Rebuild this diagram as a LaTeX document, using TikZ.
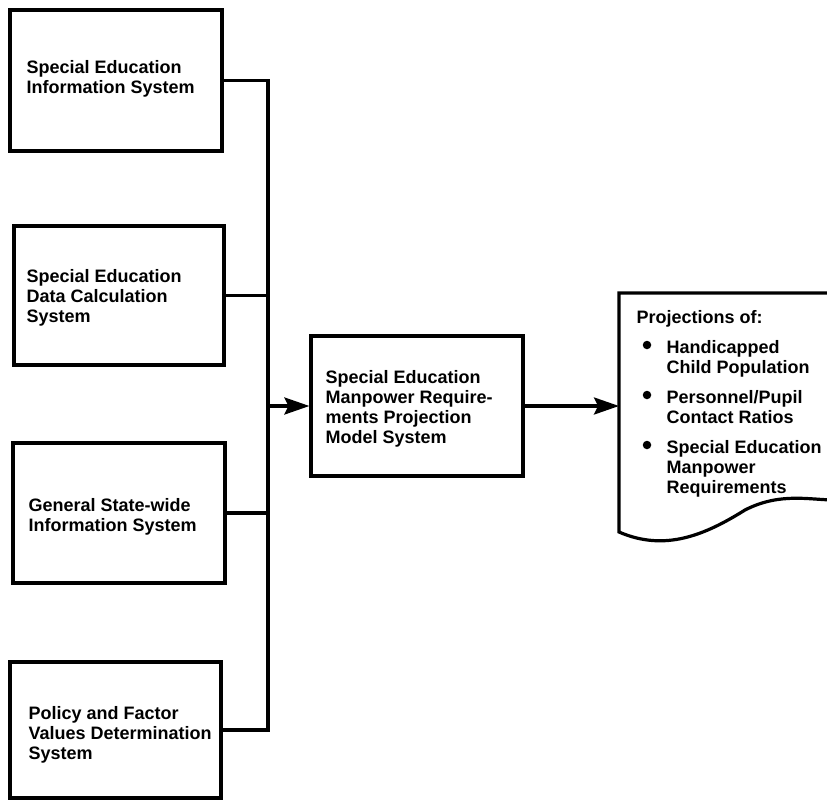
\documentclass[tikz,border=0pt]{standalone}
\usepackage{fontspec}
\setmainfont{Liberation Sans}
\usetikzlibrary{arrows.meta}
\begin{document}
\begin{tikzpicture}[x=1pt,y=-1pt,
  line width=3.2pt,
  sysbox/.style={draw, line width=3.2pt, inner sep=0pt},
  boxtext/.style={font=\bfseries\fontsize{18}{19.8}\selectfont, align=left,
    inner sep=0pt, anchor=base west},
  flow/.style={-{Stealth[length=25pt,width=17pt,inset=4pt]}, line width=3.2pt},
  bulletdot/.style={circle, fill, inner sep=0pt, minimum size=8.5pt}
]
\useasboundingbox (0,0) rectangle (827,800);
\clip (0,0) rectangle (827,800);

% input systems
\node[sysbox, minimum width=212pt, minimum height=141pt] (b1) at (116,80.5) {};
\node[sysbox, minimum width=210pt, minimum height=139pt] (b2) at (119,295.5) {};
\node[sysbox, minimum width=212pt, minimum height=140pt] (b3) at (119,513) {};
\node[sysbox, minimum width=211pt, minimum height=136pt] (b4) at (115.5,730) {};

% texts are placed by the baseline of their last line
\node[boxtext] (t1) at (25,93) {Special Education\\Information System};
\node[boxtext] (t2) at (25,322) {Special Education\\Data Calculation\\System};
\node[boxtext] (t3) at (27,531) {General State-wide\\Information System};
\node[boxtext] (t4) at (27,759) {Policy and Factor\\Values Determination\\System};

% projection model
\node[sysbox, minimum width=212pt, minimum height=140pt] (c) at (417,406) {};
\node[boxtext] (tc) at (324,443) {Special Education\\Manpower Require-\\ments Projection\\Model System};

% collecting bus
\coordinate (bus) at (268,406);
\draw (b1.east) -| (bus);
\draw (b4.east) -| (bus);
\draw (b2.east) -- (b2.east -| bus);
\draw (b3.east) -- (b3.east -| bus);
\draw[flow] (bus) -- (c.west);

% output document
\coordinate (docin) at (619,406);
\draw (835,293) -- (619,293) -- (619,532)
  .. controls (665,552) and (705,535) .. (745,510)
  .. controls (780,492) and (810,500) .. (835,500);
\draw[flow] (c.east) -- (docin);

\node[boxtext] (tp) at (635,323) {Projections of:};
\node[bulletdot] (d1) at (647,345) {};
\node[bulletdot] (d2) at (647,395) {};
\node[bulletdot] (d3) at (647,445) {};
\node[boxtext] (i1) at (665,373) {Handicapped\\Child Population};
\node[boxtext] (i2) at (665,423) {Personnel/Pupil\\Contact Ratios};
\node[boxtext] (i3) at (665,493) {Special Education\\Manpower\\Requirements};
\end{tikzpicture}
\end{document}
